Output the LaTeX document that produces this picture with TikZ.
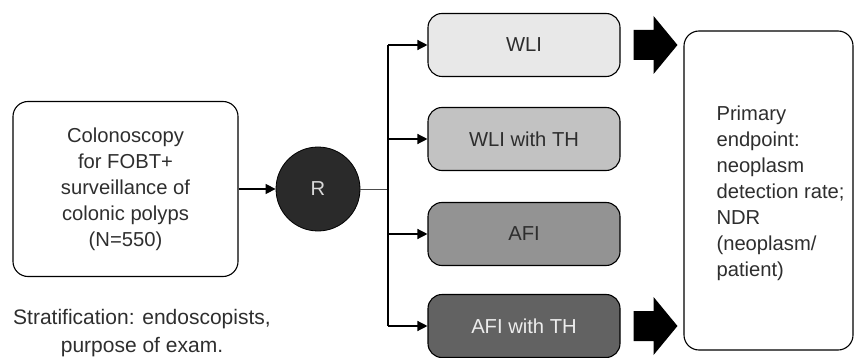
\documentclass[tikz,border=0pt]{standalone}
\usepackage{fontspec}
\setmainfont{Liberation Sans}
\usetikzlibrary{arrows.meta,calc}
\definecolor{txt}{HTML}{2E2E2E}
\definecolor{fillA}{HTML}{E8E8E8}
\definecolor{fillB}{HTML}{C2C2C2}
\definecolor{fillC}{HTML}{939393}
\definecolor{fillD}{HTML}{626262}
\definecolor{circ}{HTML}{2A2A2A}
\begin{document}
\begin{tikzpicture}[x=1pt,y=-1pt,
  every node/.style={font=\fontsize{20.2}{26}\selectfont, text=txt},
  rbox/.style={draw=black, line width=1.1pt, rounded corners=15pt, align=center, inner sep=0pt},
  arm/.style={rbox, minimum width=192pt, minimum height=63pt, rounded corners=14pt},
  conn/.style={line width=1.3pt, -{Triangle[length=10pt,width=10pt]}},
  blockarrow/.style={fill=black}
]
\useasboundingbox (0,0) rectangle (866,358);
\node[rbox, minimum width=225pt, minimum height=175pt] (src) at (125.5,189)
  {Colonoscopy\\for FOBT+\\surveillance of\\colonic polyps\\(N=550)};
\node[align=center, font=\fontsize{21}{28}\selectfont] (strat) at (142,333) {Stratification: endoscopists,\\purpose of exam.};
\node[circle, fill=circ, draw=black, line width=0.8pt, minimum size=84pt, inner sep=0pt, text=white!85!black] (R) at (318,189) {R};
\coordinate (j) at (388,189);
\node[arm, fill=fillA] (wli) at (524,45) {WLI};
\node[arm, fill=fillB] (wlith) at (524,139) {WLI with TH};
\node[arm, fill=fillC] (afi) at (524,234) {AFI};
\node[arm, fill=fillD, text=white!93!black] (afith) at (524,326) {AFI with TH};
\node[rbox, minimum width=169pt, minimum height=319pt] (endp) at (768.5,190.5) {};
\node[anchor=west, align=left] (endtxt) at (713,193)
  {Primary\\endpoint:\\neoplasm\\detection rate;\\NDR\\(neoplasm/\\patient)};
\draw[conn] (src.east) -- (R.west);
\draw[line width=1pt, draw=black!70] (R.east) -- (j);
\draw[line width=1.3pt] (j |- wli.west) -- (j |- afith.west);
\draw[conn] (j |- wli.west) -- (wli.west);
\draw[conn] (j |- wlith.west) -- (wlith.west);
\draw[conn] (j |- afi.west) -- (afi.west);
\draw[conn] (j |- afith.west) -- (afith.west);
\foreach \b in {wli,afith}{
  \fill[blockarrow] ($(\b.east)+(13,-15)$) -- ($(\b.east)+(33,-15)$) -- ($(\b.east)+(33,-29)$)
    -- ($(endp.west |- \b.east)+(-6,0)$) -- ($(\b.east)+(33,29)$) -- ($(\b.east)+(33,15)$)
    -- ($(\b.east)+(13,15)$) -- cycle;
}
\end{tikzpicture}
\end{document}
